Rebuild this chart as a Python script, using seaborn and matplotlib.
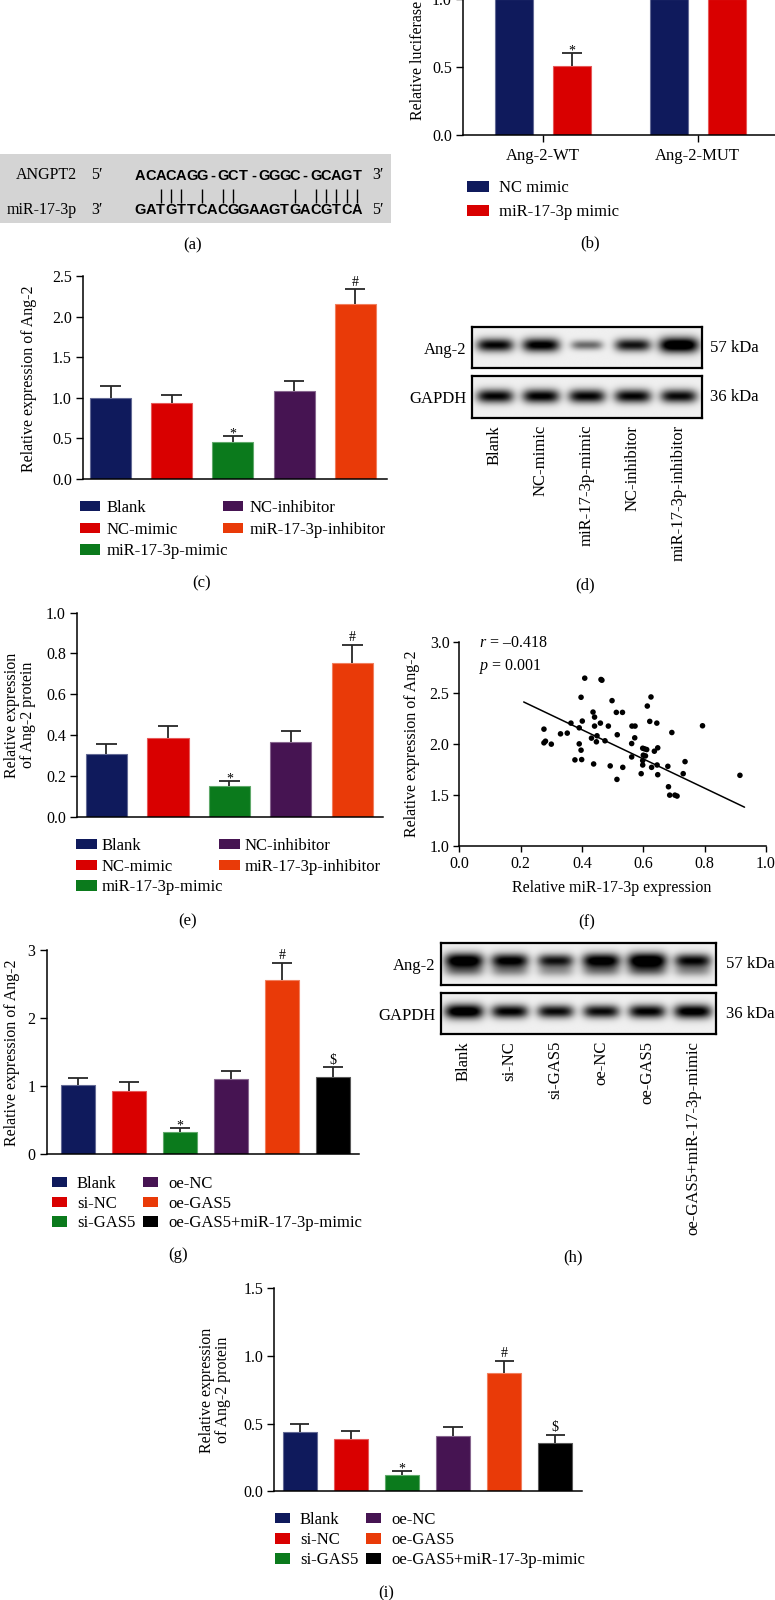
import numpy as np
import pandas as pd
import matplotlib.pyplot as plt
import seaborn as sns
from matplotlib.patches import Patch
from matplotlib.colors import to_rgb

# === Data ===
# (a) binding site
seq_target = "ACACAGG-GCT-GGGC-GCAGT"
seq_mirna = "GATGTTCACGGAAGTGACGTCA"

# (b) luciferase assay
luc_constructs = ["Ang-2-WT", "Ang-2-MUT"]
luc_treatments = ["NC mimic", "miR-17-3p mimic"]
luc_nc = [1.0, 1.0]
luc_nc_sd = [0.0, 0.0]
luc_mimic = [0.51, 1.0]
luc_mimic_sd = [0.09, 0.0]

# (c)-(e) mimic / inhibitor groups
mimic_groups = ["Blank", "NC-mimic", "miR-17-3p-mimic", "NC-inhibitor", "miR-17-3p-inhibitor"]
mrna_c = [1.0, 0.94, 0.45, 1.08, 2.15]
mrna_c_sd = [0.14, 0.09, 0.08, 0.13, 0.19]
prot_e = [0.309, 0.384, 0.152, 0.365, 0.752]
prot_e_sd = [0.047, 0.059, 0.024, 0.057, 0.091]
marks_ce = ["", "", "*", "", "#"]
blot_d_ang2 = [0.80, 0.85, 0.45, 0.75, 1.0]
blot_d_gapdh = [0.80, 0.82, 0.80, 0.80, 0.78]

# (f) correlation
mir_expr = [0.276, 0.276, 0.281, 0.300, 0.330, 0.352, 0.364, 0.377, 0.391, 0.391,
            0.397, 0.397, 0.399, 0.401, 0.409, 0.431, 0.436, 0.441, 0.438, 0.441,
            0.449, 0.447, 0.460, 0.462, 0.465, 0.475, 0.486, 0.492, 0.498, 0.512,
            0.515, 0.514, 0.532, 0.533, 0.563, 0.573, 0.562, 0.572, 0.562, 0.593,
            0.598, 0.604, 0.611, 0.600, 0.607, 0.598, 0.598, 0.613, 0.621, 0.625,
            0.627, 0.636, 0.644, 0.647, 0.645, 0.647, 0.680, 0.682, 0.686, 0.693,
            0.703, 0.710, 0.730, 0.736, 0.793, 0.915]
ang2_expr = [2.144, 2.010, 2.026, 1.997, 2.098, 2.105, 2.203, 1.843, 2.157, 2.000,
             2.456, 1.938, 1.846, 2.223, 2.643, 2.056, 2.311, 2.262, 1.803, 2.174,
             2.079, 2.020, 2.203, 2.630, 2.623, 2.030, 2.174, 1.784, 2.423, 2.308,
             2.089, 1.652, 2.308, 1.770, 2.174, 2.174, 2.003, 2.059, 1.872, 1.708,
             1.957, 1.951, 1.944, 1.889, 1.882, 1.836, 1.793, 2.370, 2.220, 2.459,
             1.770, 1.928, 2.203, 1.961, 1.793, 1.698, 1.780, 1.580, 1.498, 2.111,
             1.498, 1.489, 1.708, 1.826, 2.177, 1.692]
fit_x = [0.21, 0.93]
fit_y = [2.41, 1.38]

# (g)-(i) GAS5 groups
gas5_groups = ["Blank", "si-NC", "si-GAS5", "oe-NC", "oe-GAS5", "oe-GAS5+miR-17-3p-mimic"]
mrna_g = [1.01, 0.93, 0.32, 1.10, 2.56, 1.13]
mrna_g_sd = [0.11, 0.12, 0.055, 0.12, 0.25, 0.14]
prot_i = [0.435, 0.388, 0.12, 0.408, 0.87, 0.354]
prot_i_sd = [0.065, 0.059, 0.03, 0.068, 0.093, 0.063]
marks_gi = ["", "", "*", "", "#", "$"]
blot_h_ang2 = [0.95, 0.85, 0.75, 0.90, 1.0, 0.80]
blot_h_gapdh = [0.95, 0.82, 0.78, 0.78, 0.82, 0.88]

navy, red, green, purple, orange, black = "#0f1a5c", "#d90000", "#0b7a1c", "#461452", "#e93a08", "#000000"
colors_ce = [navy, red, green, purple, orange]
colors_gi = [navy, red, green, purple, orange, black]

# === Style ===
sns.set_theme(style="ticks")
plt.rcParams["font.family"] = ["Liberation Serif", "DejaVu Serif"]
plt.rcParams["mathtext.fontset"] = "custom"
plt.rcParams["mathtext.rm"] = "Liberation Serif"
plt.rcParams["mathtext.it"] = "Liberation Serif:italic"
plt.rcParams["axes.edgecolor"] = "black"
plt.rcParams["axes.linewidth"] = 1.1
plt.rcParams["xtick.color"] = "black"
plt.rcParams["ytick.color"] = "black"
plt.rcParams["text.color"] = "black"

W, H = 775, 1600
FS = 12      # legends, blot labels, panel letters
TFS = 11.5   # tick labels, axis labels
fig = plt.figure(figsize=(7.75, 16), dpi=100)


def add_ax(x0, y0, x1, y1):
    return fig.add_axes([x0 / W, 1 - y1 / H, (x1 - x0) / W, (y1 - y0) / H])


def ftext(x, y, s, **kw):
    kw.setdefault("ha", "center")
    kw.setdefault("va", "center")
    kw.setdefault("fontsize", TFS)
    fig.text(x / W, 1 - y / H, s, **kw)


def lighten(c, f=0.35):
    r = np.array(to_rgb(c))
    return tuple(r + (1 - r) * f)


def legend_col(labels, colors, x, y, hl, hh, pad, pitch):
    handles = [Patch(facecolor=c, edgecolor="none") for c in colors]
    fs_px = FS * 100 / 72
    fig.legend(handles, labels, loc="upper left", bbox_to_anchor=(x / W, 1 - (y - 0.48 * fs_px) / H),
               frameon=False, fontsize=FS, handlelength=hl / fs_px, handleheight=hh / fs_px,
               handletextpad=pad / fs_px, labelspacing=(pitch - 0.95 * fs_px) / fs_px,
               borderpad=0, borderaxespad=0)


def bar_panel(ax, groups, vals, sds, marks, colors, width, cap):
    df = pd.DataFrame({"group": groups, "value": vals})
    sns.barplot(data=df, x="group", y="value", hue="group", palette=colors, legend=False,
                width=width, saturation=1, errorbar=None, ax=ax, linewidth=0.8)
    for p, c in zip(ax.patches, colors):
        p.set_edgecolor(lighten(c))
    x = np.arange(len(vals))
    top = np.add(vals, sds)
    ax.vlines(x, vals, top, color="#262626", lw=1.3, zorder=3)
    ax.hlines(top, x - cap * width, x + cap * width, color="#262626", lw=1.3, zorder=3)
    for xi, t, m in zip(x, top, marks):
        if m:
            off = -1 if m == "*" else 2.5
            ax.annotate(m, (xi, t), xytext=(0, off), textcoords="offset points",
                        ha="center", va="baseline", fontsize=10)
    ax.set_xticks([])
    ax.set_xlabel("")
    ax.set_ylabel("")
    ax.tick_params(axis="y", length=5, width=1, pad=3, labelsize=TFS)
    sns.despine(ax=ax)


def blot(ax, vals, label, kda, yc, smear=0.0, lanes=None):
    n = len(vals)
    X, Y = np.meshgrid(np.linspace(-0.5, n - 0.5, 500), np.linspace(0, 1, 90))
    img = np.zeros_like(X)
    for i, v in enumerate(vals):
        hw = 0.28 + 0.15 * v
        sy = 0.06 + 0.13 * v
        shape = np.exp(-np.abs((X - i) / hw) ** 4)
        img += v * shape * np.exp(-((Y - yc) / sy) ** 2)
        img += smear * v * shape * np.exp(-((Y - yc - 0.25) / 0.14) ** 2)
    ax.imshow(img, cmap="gray_r", vmin=-0.05, vmax=0.8, extent=(-0.5, n - 0.5, 1, 0),
              aspect="auto", interpolation="bilinear")
    ax.set_yticks([0.5])
    ax.set_yticklabels([label])
    ax.tick_params(axis="y", length=0, pad=4, labelsize=FS)
    if lanes is None:
        ax.set_xticks([])
    else:
        ax.set_xticks(range(n))
        ax.set_xticklabels(lanes, rotation=90)
        ax.tick_params(axis="x", length=0, pad=5, labelsize=FS)
    for s in ax.spines.values():
        s.set_visible(True)
        s.set_linewidth(1.6)
    ax.text(1.035, 0.5, kda, transform=ax.transAxes, ha="left", va="center", fontsize=FS)


# === (a) binding site ===
ax = add_ax(0, 154, 391, 223)
ax.set_facecolor("#d4d4d4")
ax.set_xlim(0, 391)
ax.set_ylim(223, 154)
ax.set_xticks([])
ax.set_yticks([])
for s in ax.spines.values():
    s.set_visible(False)
step = 227 / len(seq_mirna)
pairs = {("A", "T"), ("T", "A"), ("G", "C"), ("C", "G")}
for i, (a, b) in enumerate(zip(seq_target, seq_mirna)):
    cx = 135 + step * (i + 0.5)
    ax.text(cx, 176, a, ha="center", va="center", family="Liberation Sans", fontsize=10.5, weight="bold")
    ax.text(cx, 210, b, ha="center", va="center", family="Liberation Sans", fontsize=10.5, weight="bold")
    if (a, b) in pairs:
        ax.vlines(cx, 189, 202.5, color="black", lw=1.0)
ax.text(77, 175, "ANGPT2", ha="right", va="center", fontsize=TFS)
ax.text(77, 210, "miR-17-3p", ha="right", va="center", fontsize=TFS)
ax.text(97, 175, "5\u2032", ha="center", va="center", fontsize=TFS)
ax.text(97, 210, "3\u2032", ha="center", va="center", fontsize=TFS)
ax.text(378, 175, "3\u2032", ha="center", va="center", fontsize=TFS)
ax.text(378, 210, "5\u2032", ha="center", va="center", fontsize=TFS)
ftext(193, 245, "(a)", fontsize=FS)

# === (b) luciferase ===
ax = add_ax(463, 135 - 1.5 * 136, 544 + 1.52 * 154, 135)
df_luc = pd.DataFrame({
    "construct": luc_constructs * 2,
    "treatment": [luc_treatments[0]] * 2 + [luc_treatments[1]] * 2,
    "value": luc_nc + luc_mimic,
})
sns.barplot(data=df_luc, x="construct", y="value", hue="treatment", palette=[navy, red],
            width=0.75, gap=0.34, saturation=1, errorbar=None, legend=False, ax=ax, linewidth=0.8)
bars = sorted(ax.patches, key=lambda p: p.get_x())
sd_sorted = [luc_nc_sd[0], luc_mimic_sd[0], luc_nc_sd[1], luc_mimic_sd[1]]
for p, sd in zip(bars, sd_sorted):
    p.set_edgecolor(lighten(p.get_facecolor()[:3]))
    if sd > 0:
        cx = p.get_x() + p.get_width() / 2
        t = p.get_height() + sd
        ax.vlines(cx, p.get_height(), t, color="#262626", lw=1.3, zorder=3)
        ax.hlines(t, cx - 0.065, cx + 0.065, color="#262626", lw=1.3, zorder=3)
        ax.annotate("*", (cx, t), xytext=(0, -1), textcoords="offset points",
                    ha="center", va="baseline", fontsize=10)
ax.set_xlim(-0.52, 1.52)
ax.set_ylim(0, 1.5)
ax.set_yticks([0, 0.5, 1.0, 1.5])
ax.set_yticklabels(["0.0", "0.5", "1.0", "1.5"])
ax.set_xlabel("")
ax.set_ylabel("")
ax.tick_params(axis="y", length=5, width=1, pad=3, labelsize=TFS)
ax.tick_params(axis="x", length=5, width=1, pad=4, labelsize=FS)
sns.despine(ax=ax)
ftext(418, 120, "Relative luciferase activity", rotation=90, va="bottom")
legend_col(luc_treatments, [navy, red], 467, 188.5, 22, 11, 10, 23.5)
ftext(590, 243, "(b)", fontsize=FS)

# === (c) Ang-2 mRNA ===
ax = add_ax(83, 276, 387, 479)
bar_panel(ax, mimic_groups, mrna_c, mrna_c_sd, marks_ce, colors_ce, 0.67, 0.25)
ax.set_xlim(-0.45, 4.52)
ax.set_ylim(0, 2.5)
ax.set_yticks(np.arange(0, 2.51, 0.5))
ax.set_yticklabels(["0.0", "0.5", "1.0", "1.5", "2.0", "2.5"])
ftext(29, 379, "Relative expression of Ang-2", rotation=90)
legend_col(mimic_groups[:3], colors_ce[:3], 80, 508, 20, 10, 7, 21.5)
legend_col(mimic_groups[3:], colors_ce[3:], 223, 508, 20, 10, 7, 21.5)
ftext(202, 583, "(c)", fontsize=FS)

# === (d) western blot ===
ax = add_ax(472, 327, 702, 368)
blot(ax, blot_d_ang2, "Ang-2", "57 kDa", 0.44)
ax = add_ax(472, 376, 702, 418)
blot(ax, blot_d_gapdh, "GAPDH", "36 kDa", 0.48, lanes=mimic_groups)
ftext(585, 585, "(d)", fontsize=FS)

# === (e) Ang-2 protein ===
ax = add_ax(77, 612.7, 383, 816.7)
bar_panel(ax, mimic_groups, prot_e, prot_e_sd, marks_ce, colors_ce, 0.67, 0.25)
ax.set_xlim(-0.48, 4.5)
ax.set_ylim(0, 1.0)
ax.set_yticks(np.arange(0, 1.01, 0.2))
ax.set_yticklabels(["0.0", "0.2", "0.4", "0.6", "0.8", "1.0"])
ftext(20, 715, "Relative expression\nof Ang-2 protein", rotation=90, linespacing=1.05)
legend_col(mimic_groups[:3], colors_ce[:3], 76, 846, 21, 10, 5, 20.5)
legend_col(mimic_groups[3:], colors_ce[3:], 219, 846, 21, 10, 5, 20.5)
ftext(188, 921, "(e)", fontsize=FS)

# === (f) correlation ===
ax = add_ax(459.3, 641.7, 766, 846)
sns.scatterplot(x=mir_expr, y=ang2_expr, color="black", s=16, edgecolor="none", ax=ax)
sns.lineplot(x=fit_x, y=fit_y, color="black", lw=1.1, ax=ax)
ax.set_xlim(0, 1)
ax.set_ylim(1, 3)
ax.set_xticks(np.arange(0, 1.01, 0.2))
ax.set_xticklabels(["0.0", "0.2", "0.4", "0.6", "0.8", "1.0"])
ax.set_yticks(np.arange(1, 3.01, 0.5))
ax.set_yticklabels(["1.0", "1.5", "2.0", "2.5", "3.0"])
ax.tick_params(length=4, width=1, pad=3, labelsize=TFS)
sns.despine(ax=ax)
ftext(479, 643, "$r$ = \u20130.418", ha="left")
ftext(479, 667, "$p$ = 0.001", ha="left")
ftext(611.7, 888, "Relative miR-17-3p expression")
ftext(412, 744, "Relative expression of Ang-2", rotation=90)
ftext(587, 922, "(f)", fontsize=FS)

# === (g) Ang-2 mRNA, GAS5 ===
ax = add_ax(46.7, 950, 359, 1153.7)
bar_panel(ax, gas5_groups, mrna_g, mrna_g_sd, marks_gi, colors_gi, 0.67, 0.3)
ax.set_xlim(-0.61, 5.51)
ax.set_ylim(0, 3)
ax.set_yticks([0, 1, 2, 3])
ftext(12, 1053, "Relative expression of Ang-2", rotation=90)
legend_col(gas5_groups[:3], colors_gi[:3], 52, 1184, 15, 10, 10, 19.5)
legend_col(gas5_groups[3:], colors_gi[3:], 143, 1184, 15, 10, 10, 19.5)
ftext(178, 1255, "(g)", fontsize=FS)

# === (h) western blot, GAS5 ===
ax = add_ax(441, 943, 716, 985)
blot(ax, blot_h_ang2, "Ang-2", "57 kDa", 0.42, smear=0.35)
ax = add_ax(441, 993, 716, 1034)
blot(ax, blot_h_gapdh, "GAPDH", "36 kDa", 0.45, lanes=gas5_groups)
ftext(573, 1257, "(h)", fontsize=FS)

# === (i) Ang-2 protein, GAS5 ===
ax = add_ax(274.3, 1288, 581.7, 1491.3)
bar_panel(ax, gas5_groups, prot_i, prot_i_sd, marks_gi, colors_gi, 0.67, 0.28)
ax.set_xlim(-0.5, 5.52)
ax.set_ylim(0, 1.5)
ax.set_yticks([0, 0.5, 1.0, 1.5])
ax.set_yticklabels(["0.0", "0.5", "1.0", "1.5"])
ftext(215, 1390, "Relative expression\nof Ang-2 protein", rotation=90, linespacing=1.05)
legend_col(gas5_groups[:3], colors_gi[:3], 275, 1520, 15, 10, 10, 20)
legend_col(gas5_groups[3:], colors_gi[3:], 366, 1520, 15, 10, 10, 20)
ftext(386, 1593, "(i)", fontsize=FS)

fig.savefig("out.png", dpi=100, facecolor="white")
